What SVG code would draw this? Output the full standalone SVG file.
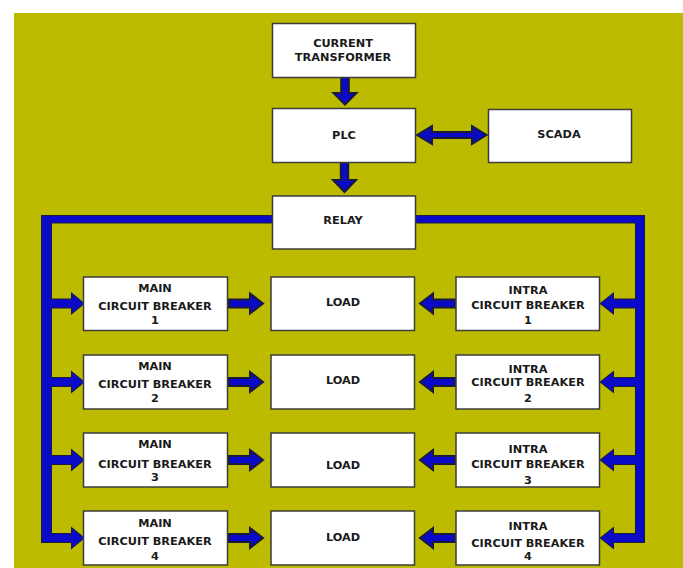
<svg xmlns="http://www.w3.org/2000/svg" xmlns:xlink="http://www.w3.org/1999/xlink" width="683" height="568" viewBox="0 0 683 568">
<style>
.box{fill:#ffffff;stroke:#3c3c3c;stroke-width:1.5}
.t{font-family:"DejaVu Sans","Liberation Sans",sans-serif;font-weight:bold;font-size:11.3px;fill:#1a1a1a;text-anchor:middle}
.outl{fill:#0a0ac8;stroke:#1a1a3c;stroke-width:2;stroke-linejoin:miter}
.fil{fill:#0a0ac8;stroke:none}
</style>
<defs>
<path id="barL" d="M42,216 H272 V222.5 H51 V534 H51 V542 H42 Z"/>
<path id="barR" d="M416,216 H644 V542 H636 V222.5 H416 Z"/>
<polygon id="ctplc" points="341.2,77 348.8,77 348.8,93 356.5,93 345,104.5 333.5,93 341.2,93"/>
<polygon id="plcrelay" points="340.8,162 348.2,162 348.2,180 356,180 344.5,192 333,180 340.8,180"/>
<polygon id="dbl" points="417,135 432,126 432,132 472,132 472,126 486.5,135 472,144 472,138 432,138 432,144"/>
<g id="armL"><polygon points="50,-4 72,-4 72,-9.5 83.5,0 72,9.5 72,4 50,4"/></g>
<g id="armM"><polygon points="229,-4 250,-4 250,-10 263,0 250,10 250,4 229,4"/></g>
<g id="armI"><polygon points="455,-4 433,-4 433,-10 420,0 433,10 433,4 455,4"/></g>
<g id="armR"><polygon points="637,-4 613,-4 613,-9.5 601,0 613,9.5 613,4 637,4"/></g>
</defs>
<rect x="0" y="0" width="683" height="568" fill="#ffffff"/>
<rect x="14" y="13" width="669" height="555" fill="#bcbb00"/>
<g id="connectors">
<g class="outl">
<use xlink:href="#barL"/><use xlink:href="#barR"/>
<use xlink:href="#ctplc"/><use xlink:href="#plcrelay"/><use xlink:href="#dbl"/>
<use xlink:href="#armL" y="303.5"/><use xlink:href="#armM" y="303.5"/><use xlink:href="#armI" y="303.5"/><use xlink:href="#armR" y="303.5"/>
<use xlink:href="#armL" y="382"/><use xlink:href="#armM" y="382"/><use xlink:href="#armI" y="382"/><use xlink:href="#armR" y="382"/>
<use xlink:href="#armL" y="460"/><use xlink:href="#armM" y="460"/><use xlink:href="#armI" y="460"/><use xlink:href="#armR" y="460"/>
<use xlink:href="#armL" y="538"/><use xlink:href="#armM" y="538"/><use xlink:href="#armI" y="538"/><use xlink:href="#armR" y="538"/>
</g>
<g class="fil">
<use xlink:href="#barL"/><use xlink:href="#barR"/>
<use xlink:href="#armL" y="303.5"/><use xlink:href="#armR" y="303.5"/>
<use xlink:href="#armL" y="382"/><use xlink:href="#armR" y="382"/>
<use xlink:href="#armL" y="460"/><use xlink:href="#armR" y="460"/>
<use xlink:href="#armL" y="538"/><use xlink:href="#armR" y="538"/>
</g>
<line x1="451" y1="132" x2="451" y2="138" stroke="#1a1a3c" stroke-width="1"/>
</g>
<g id="ct"><rect class="box" x="272.5" y="23.5" width="143" height="54"/><text class="t" x="343" y="47">CURRENT</text><text class="t" x="343" y="61">TRANSFORMER</text></g>
<g id="plc"><rect class="box" x="272.5" y="108.5" width="143" height="54"/><text class="t" x="344" y="139">PLC</text></g>
<g id="scada"><rect class="box" x="488.5" y="109.5" width="143" height="53"/><text class="t" x="559" y="137.5">SCADA</text></g>
<g id="relay"><rect class="box" x="272.5" y="196" width="143" height="53"/><text class="t" x="343" y="223.5">RELAY</text></g>

<g id="main1"><rect class="box" x="83.5" y="277" width="144" height="53.5"/><text class="t" x="155" y="291.5">MAIN</text><text class="t" x="155" y="310">CIRCUIT BREAKER</text><text class="t" x="155" y="324">1</text></g>
<g id="load1"><rect class="box" x="271" y="277" width="143.5" height="53.5"/><text class="t" x="343" y="306">LOAD</text></g>
<g id="intra1"><rect class="box" x="456" y="277" width="143.5" height="53.5"/><text class="t" x="528" y="293.5">INTRA</text><text class="t" x="528" y="309">CIRCUIT BREAKER</text><text class="t" x="528" y="324">1</text></g>

<g id="main2"><rect class="box" x="83.5" y="355" width="144" height="54"/><text class="t" x="155" y="370">MAIN</text><text class="t" x="155" y="388">CIRCUIT BREAKER</text><text class="t" x="155" y="402">2</text></g>
<g id="load2"><rect class="box" x="271" y="355" width="143.5" height="54"/><text class="t" x="343" y="384">LOAD</text></g>
<g id="intra2"><rect class="box" x="456" y="355" width="143.5" height="54"/><text class="t" x="528" y="373">INTRA</text><text class="t" x="528" y="386">CIRCUIT BREAKER</text><text class="t" x="528" y="402">2</text></g>

<g id="main3"><rect class="box" x="83.5" y="433" width="144" height="54"/><text class="t" x="155" y="448">MAIN</text><text class="t" x="155" y="468">CIRCUIT BREAKER</text><text class="t" x="155" y="481">3</text></g>
<g id="load3"><rect class="box" x="271" y="433" width="143.5" height="54"/><text class="t" x="343" y="469">LOAD</text></g>
<g id="intra3"><rect class="box" x="456" y="433" width="143.5" height="54"/><text class="t" x="528" y="453">INTRA</text><text class="t" x="528" y="468">CIRCUIT BREAKER</text><text class="t" x="528" y="484">3</text></g>

<g id="main4"><rect class="box" x="83.5" y="511" width="144" height="54"/><text class="t" x="155" y="527">MAIN</text><text class="t" x="155" y="545">CIRCUIT BREAKER</text><text class="t" x="155" y="560">4</text></g>
<g id="load4"><rect class="box" x="271" y="511" width="143.5" height="54"/><text class="t" x="343" y="541">LOAD</text></g>
<g id="intra4"><rect class="box" x="456" y="511" width="143.5" height="54"/><text class="t" x="528" y="530">INTRA</text><text class="t" x="528" y="547">CIRCUIT BREAKER</text><text class="t" x="528" y="560">4</text></g>
</svg>
